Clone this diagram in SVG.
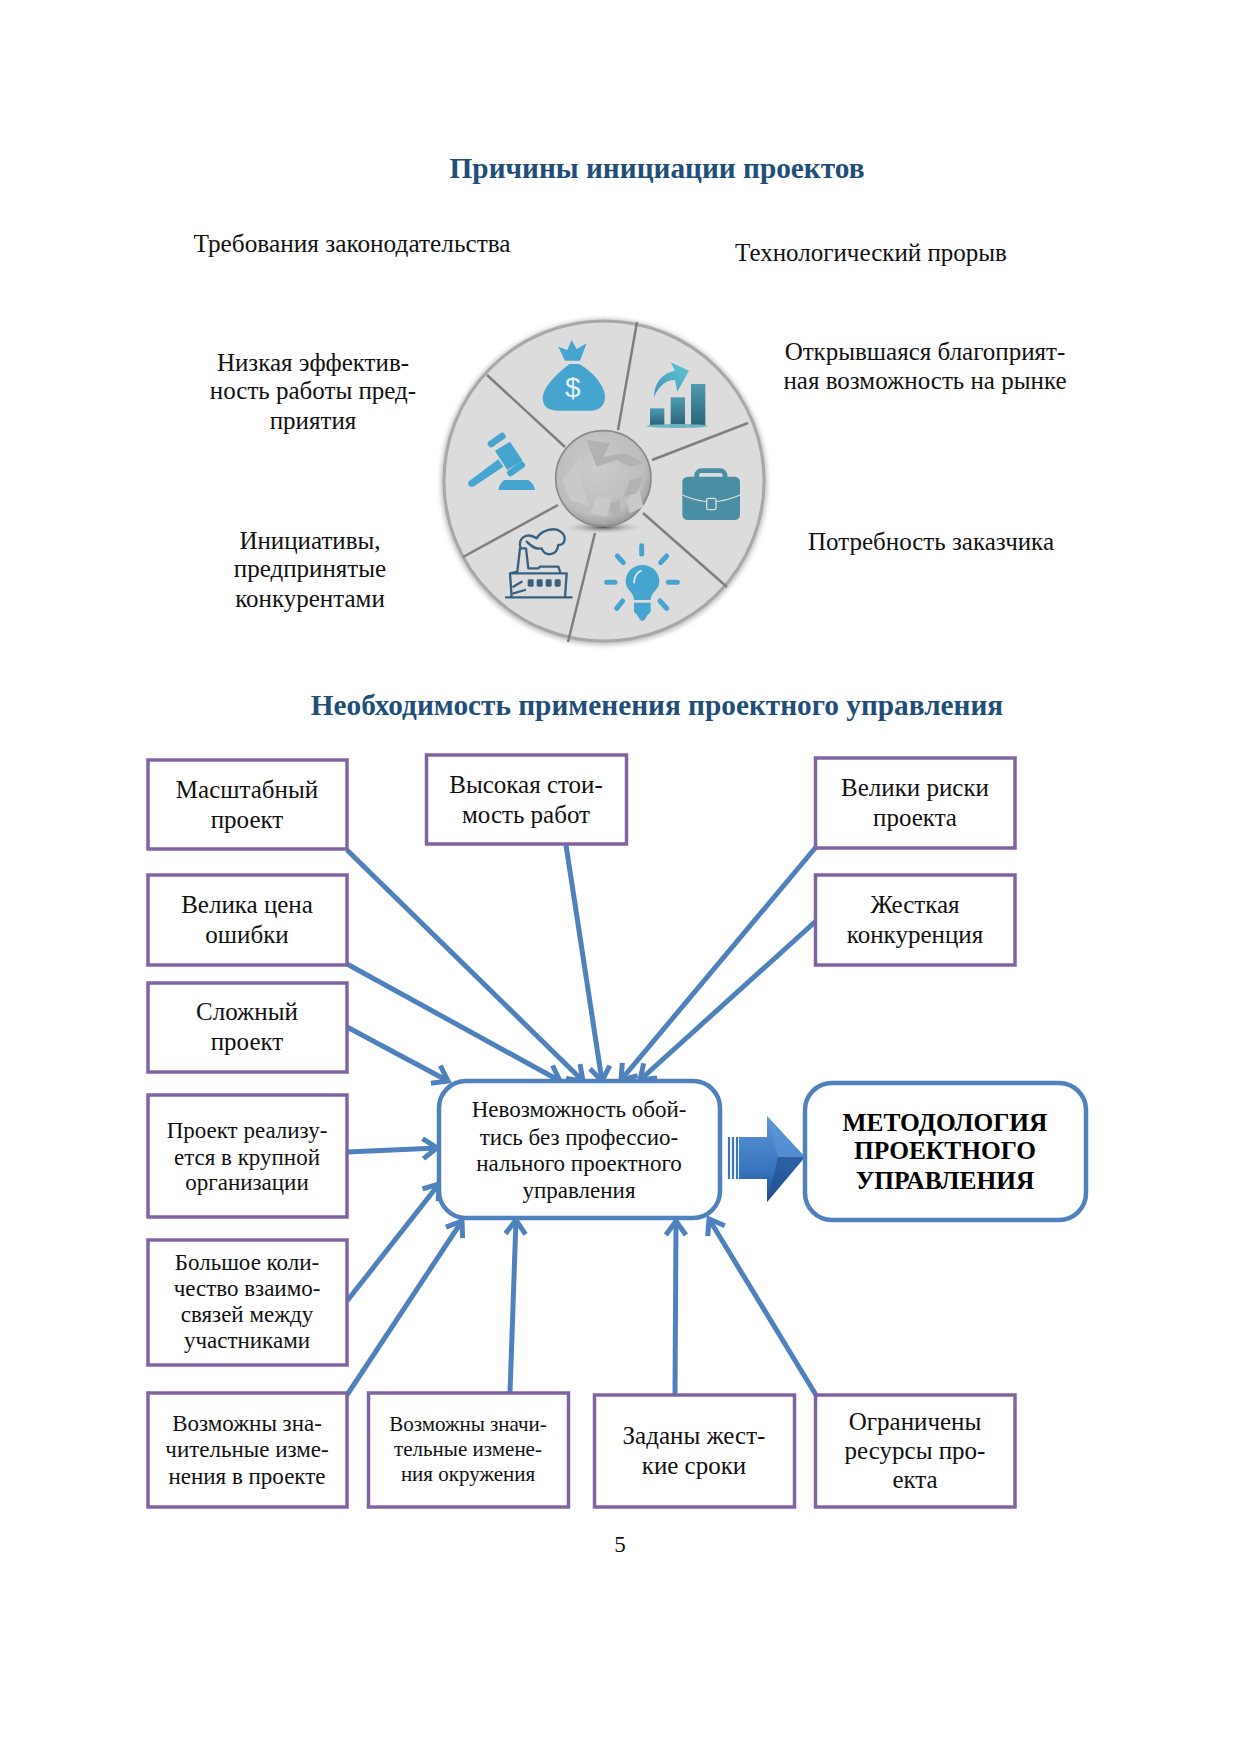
<svg xmlns="http://www.w3.org/2000/svg" width="1241" height="1754" viewBox="0 0 1241 1754">
<style>
text{font-family:"Liberation Serif","Times New Roman",serif;fill:#111;text-anchor:middle;transform:translateY(-1px)}
.t{font-weight:bold;font-size:29.3px;fill:#1f4e79}
.a{font-size:25px}.w{font-size:25.3px}.b{font-size:23px}.c{font-size:21px}
.d{font-weight:bold;font-size:25.4px;fill:#000}
.box{fill:#fff;stroke:#8064a2;stroke-width:3.5}
.rnd{fill:#fff;stroke:#4f81bd;stroke-width:4.5}
.con{stroke:#4f81bd;stroke-width:5;fill:none;marker-end:url(#ah)}
.spoke{stroke:#7f7f7f;stroke-width:2.5;fill:none}
.ic{fill:#45a5cf}
.fa{fill:none;stroke:#3a6080;stroke-width:7;stroke-linecap:round;stroke-linejoin:round}
.ray{stroke:#45a5cf;stroke-width:15;stroke-linecap:round;fill:none}
</style>
<defs>
<marker id="ah" markerUnits="userSpaceOnUse" markerWidth="28" markerHeight="28" refX="20" refY="12" orient="auto">
<path d="M6 2 L20 12 L6 22" fill="none" stroke="#4f81bd" stroke-width="5"/>
</marker>
<radialGradient id="hub" cx="45%" cy="40%" r="65%"><stop offset="0" stop-color="#cccccc"/><stop offset=".75" stop-color="#bcbcbc"/><stop offset="1" stop-color="#8f8f8f"/></radialGradient>
<radialGradient id="sh"><stop offset="0" stop-color="#555"/><stop offset="1" stop-color="#d9d9d9" stop-opacity="0"/></radialGradient>
<linearGradient id="bar" x1="0" y1="0" x2="0" y2="1"><stop offset="0" stop-color="#4f9bb0"/><stop offset="1" stop-color="#2b6478"/></linearGradient>
<linearGradient id="swo" x1="0" y1="1" x2="1" y2="0"><stop offset="0" stop-color="#3f95b5"/><stop offset="1" stop-color="#63c6d6"/></linearGradient>
<linearGradient id="blk" x1="0" y1="0" x2="0" y2="1"><stop offset="0" stop-color="#5f97d6"/><stop offset=".6" stop-color="#3a76c0"/><stop offset="1" stop-color="#1f4f8f"/></linearGradient>
<filter id="sf" x="-10%" y="-10%" width="120%" height="120%"><feGaussianBlur stdDeviation="2.5"/></filter>
</defs>

<text class="t" x="657" y="179">Причины инициации проектов</text>
<text class="w" x="352" y="253">Требования законодательства</text>
<text class="a" x="871" y="262">Технологический прорыв</text>
<text class="a"><tspan x="925" y="361">Открывшаяся благоприят-</tspan><tspan x="925" y="390">ная возможность на рынке</tspan></text>
<text class="a"><tspan x="313" y="372">Низкая эффектив-</tspan><tspan x="313" y="400">ность работы пред-</tspan><tspan x="313" y="430">приятия</tspan></text>
<text class="a" x="931" y="551">Потребность заказчика</text>
<text class="a"><tspan x="310" y="550">Инициативы,</tspan><tspan x="310" y="578">предпринятые</tspan><tspan x="310" y="608">конкурентами</tspan></text>

<g id="wheel">
<circle cx="604" cy="482" r="163" fill="#bbb" filter="url(#sf)"/>
<circle cx="604" cy="481" r="160" fill="#dcdcdc" stroke="#a8a8a8" stroke-width="3"/>
<path class="spoke" d="M637 322L618 430M748 423L652 460M727 587L643 513M595 533L568 642M558 505L463 557M565 447L487 375"/>
<g transform="translate(430 300) scale(.33333)">
<ellipse cx="520" cy="682" rx="125" ry="20" fill="url(#sh)"/>
<circle cx="520" cy="535" r="143" fill="url(#hub)" stroke="#8a8a8a" stroke-width="5"/>
<path fill="#c9c9c9" d="M395 540L450 475L475 520L445 525L480 620L420 600ZM500 590L545 590L530 650L480 640ZM590 600L625 560L640 620L600 640Z"/>
<path fill="#b2b2b2" d="M470 420L540 430L520 470L590 460L640 490L600 500L560 480L500 500ZM600 540L640 530L620 580L580 590ZM540 610L570 600L570 650L540 640Z"/>
<path class="ic" d="M405 182L385 140L412 150L425 120L440 147L470 130L450 182Z"/>
<path class="ic" d="M418 192C370 230 338 265 338 295C340 325 360 332 385 332H480C510 332 525 315 525 290C525 260 490 215 447 192Z"/>
<text x="428" y="292" style="font-family:'Liberation Sans',sans-serif;font-size:84px;fill:#e8f2f6">$</text>
<rect x="660" y="325" width="43" height="50" fill="url(#bar)"/>
<rect x="722" y="292" width="43" height="83" fill="url(#bar)"/>
<rect x="783" y="252" width="43" height="123" fill="url(#bar)"/>
<ellipse cx="742" cy="378" rx="92" ry="6" fill="#6fb3c4"/>
<path fill="url(#swo)" d="M672 292C672 250 695 220 735 212L722 187L777 212L742 275L735 240C705 240 685 260 672 292Z"/>
<rect x="800" y="512" width="85" height="40" rx="14" fill="none" stroke="#4a8ea3" stroke-width="14"/>
<rect x="757" y="530" width="173" height="130" rx="16" fill="#4a8ea3"/>
<path d="M757 585Q843 625 930 585" fill="none" stroke="#dcdcdc" stroke-width="4"/>
<rect x="830" y="595" width="28" height="34" rx="5" fill="#4a8ea3" stroke="#dcdcdc" stroke-width="4"/>
<g class="ic">
<path d="M115 545L205 478L220 500L130 560Q112 562 115 545Z"/>
<path d="M195 452L240 425L278 482L232 510Z"/>
<rect x="170" y="410" width="60" height="20" rx="8" transform="rotate(-35 200 420)"/>
<rect x="228" y="497" width="60" height="20" rx="8" transform="rotate(-35 258 507)"/>
<path d="M205 570Q208 552 222 540H295Q312 552 315 570Z"/>
</g>
<path class="ic" d="M612 900C612 875 587 870 587 845C587 815 610 795 637 795C665 795 688 815 688 845C688 870 662 875 662 900Z"/>
<path class="ic" d="M612 908H662V935Q650 945 645 958Q637 968 629 958Q624 945 612 935Z"/>
<path d="M612 850C612 830 622 815 635 812" fill="none" stroke="#e4eef2" stroke-width="5"/>
<path class="ray" d="M635 737V762M562 768L580 788M710 768L692 788M530 847H555M715 847H742M578 903L560 925M690 903L710 925"/>
<path class="fa" d="M228 892H425M245 892L240 820H410L405 892M240 820L262 815L270 745H288L295 805H325L330 800H385L390 815"/>
<path class="fa" d="M272 745C262 715 290 695 320 715C335 690 375 680 392 695C412 710 405 735 385 735C380 770 345 770 335 745C315 750 300 735 290 725"/>
<path class="fa" d="M250 860L275 845M250 880L285 870"/>
<g fill="#3a6080"><rect x="293" y="838" width="18" height="22" rx="4"/><rect x="320" y="838" width="18" height="22" rx="4"/><rect x="347" y="838" width="18" height="22" rx="4"/><rect x="374" y="838" width="18" height="22" rx="4"/></g>
</g>
</g>

<text class="t" x="657" y="716">Необходимость применения проектного управления</text>

<g id="connectors">
<line class="con" x1="347" y1="850" x2="583" y2="1081"/>
<line class="con" x1="566" y1="845" x2="602" y2="1081"/>
<line class="con" x1="347" y1="964" x2="560" y2="1081"/>
<line class="con" x1="347" y1="1027" x2="448" y2="1081"/>
<line class="con" x1="816" y1="847" x2="621" y2="1080"/>
<line class="con" x1="816" y1="921" x2="640" y2="1080"/>
<line class="con" x1="347" y1="1152" x2="437" y2="1148"/>
<line class="con" x1="347" y1="1301" x2="439" y2="1184"/>
<line class="con" x1="347" y1="1395" x2="462" y2="1221"/>
<line class="con" x1="510" y1="1393" x2="516" y2="1220"/>
<line class="con" x1="675" y1="1397" x2="676" y2="1221"/>
<line class="con" x1="816" y1="1395" x2="709" y2="1219"/>
</g>

<g id="n1"><rect class="box" x="148" y="760" width="199" height="89"/><text class="a"><tspan x="247" y="799">Масштабный</tspan><tspan x="247" y="829">проект</tspan></text></g>
<g id="n2"><rect class="box" x="426.5" y="755" width="200" height="89"/><text class="a"><tspan x="526" y="794">Высокая стои-</tspan><tspan x="526" y="824">мость работ</tspan></text></g>
<g id="n3"><rect class="box" x="815.5" y="758" width="199.500" height="90"/><text class="a"><tspan x="915" y="797">Велики риски</tspan><tspan x="915" y="827">проекта</tspan></text></g>
<g id="n4"><rect class="box" x="148" y="875" width="199" height="90"/><text class="a"><tspan x="247" y="914">Велика цена</tspan><tspan x="247" y="944">ошибки</tspan></text></g>
<g id="n5"><rect class="box" x="815.5" y="875" width="199.500" height="90"/><text class="a"><tspan x="915" y="914">Жесткая</tspan><tspan x="915" y="944">конкуренция</tspan></text></g>
<g id="n6"><rect class="box" x="148" y="983" width="199" height="89"/><text class="a"><tspan x="247" y="1021">Сложный</tspan><tspan x="247" y="1051">проект</tspan></text></g>
<g id="n7"><rect class="box" x="148" y="1095" width="199" height="122"/><text class="b"><tspan x="247" y="1139">Проект реализу-</tspan><tspan x="247" y="1166">ется в крупной</tspan><tspan x="247" y="1191">организации</tspan></text></g>
<g id="n8"><rect class="box" x="148" y="1240" width="199" height="125"/><text class="b"><tspan x="247" y="1271">Большое коли-</tspan><tspan x="247" y="1297">чество взаимо-</tspan><tspan x="247" y="1323">связей между</tspan><tspan x="247" y="1349">участниками</tspan></text></g>
<g id="n9"><rect class="box" x="148" y="1393" width="199" height="114"/><text class="b"><tspan x="247" y="1432">Возможны зна-</tspan><tspan x="247" y="1458">чительные изме-</tspan><tspan x="247" y="1485">нения в проекте</tspan></text></g>
<g id="n10"><rect class="box" x="368.5" y="1393" width="200" height="114"/><text class="c"><tspan x="468" y="1432">Возможны значи-</tspan><tspan x="468" y="1457">тельные измене-</tspan><tspan x="468" y="1482">ния окружения</tspan></text></g>
<g id="n11"><rect class="box" x="594.5" y="1395" width="200" height="112"/><text class="a"><tspan x="694" y="1445">Заданы жест-</tspan><tspan x="694" y="1475">кие сроки</tspan></text></g>
<g id="n12"><rect class="box" x="815.5" y="1395" width="199.500" height="112"/><text class="a"><tspan x="915" y="1431">Ограничены</tspan><tspan x="915" y="1460">ресурсы про-</tspan><tspan x="915" y="1489">екта</tspan></text></g>
<g id="center"><rect class="rnd" x="439" y="1081" width="281" height="137" rx="27"/><text class="b"><tspan x="579" y="1118">Невозможность обой-</tspan><tspan x="579" y="1146">тись без профессио-</tspan><tspan x="579" y="1172">нального проектного</tspan><tspan x="579" y="1199">управления</tspan></text></g>
<g id="arrow">
<path d="M739 1137H767V1116L805 1157L767 1202V1179H739Z" fill="url(#blk)"/>
<path d="M767 1116L805 1157L778 1157Z" fill="#5f97d6" opacity=".6"/>
<path d="M767 1202L805 1157L778 1157Z" fill="#1f4f8f" opacity=".6"/>
<path d="M729 1137V1179M733 1137V1179M737 1137V1179" stroke="#3a76c0" stroke-width="2.2" fill="none"/>
</g>
<g id="method"><rect class="rnd" x="805" y="1083" width="281" height="137" rx="27"/><text class="d"><tspan x="945" y="1132">МЕТОДОЛОГИЯ</tspan><tspan x="945" y="1160">ПРОЕКТНОГО</tspan><tspan x="945" y="1190">УПРАВЛЕНИЯ</tspan></text></g>
<text class="b" x="620" y="1553">5</text>
</svg>
